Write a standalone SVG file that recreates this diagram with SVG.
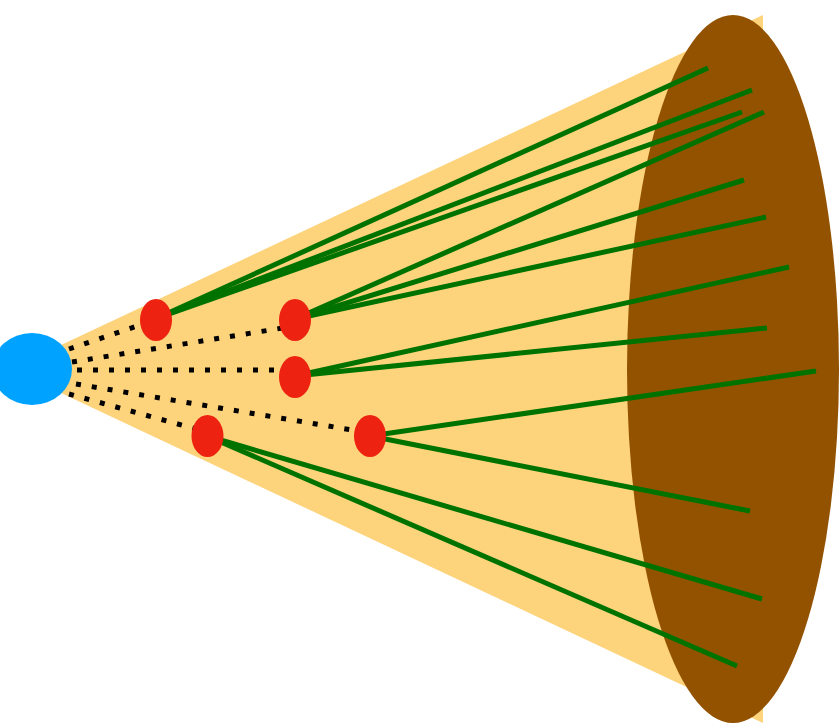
<svg xmlns="http://www.w3.org/2000/svg" width="839" height="723" viewBox="0 0 839 723">
<style>
.green{stroke:#007200;stroke-width:5;fill:none}
.dot{stroke:#000;stroke-width:5;stroke-dasharray:5 11;fill:none}
.red{fill:#ee2211}
</style>
<rect width="839" height="723" fill="#ffffff"/>
<g id="cone"><polygon points="10,369 763,15 763,723" fill="#fdd37b"/></g>
<g id="disk"><ellipse cx="733" cy="369" rx="106" ry="354" fill="#935200"/></g>
<g id="connectors">
<line class="green" x1="155" y1="319" x2="708" y2="68"/>
<line class="green" x1="155" y1="319" x2="752" y2="90"/>
<line class="green" x1="155" y1="319" x2="742" y2="112"/>
<line class="green" x1="295" y1="319" x2="764" y2="112"/>
<line class="green" x1="295" y1="319" x2="744" y2="180"/>
<line class="green" x1="295" y1="319" x2="766" y2="217"/>
<line class="green" x1="295" y1="376" x2="789" y2="267"/>
<line class="green" x1="295" y1="376" x2="767" y2="328"/>
<line class="green" x1="370" y1="436" x2="816" y2="371"/>
<line class="green" x1="370" y1="436" x2="750" y2="511"/>
<line class="green" x1="207" y1="436" x2="762" y2="599"/>
<line class="green" x1="207" y1="436" x2="737" y2="666"/>
<line class="dot" x1="69" y1="349" x2="155" y2="320"/>
<line class="dot" x1="72" y1="362" x2="295" y2="326"/>
<line class="dot" x1="77" y1="370" x2="295" y2="370"/>
<line class="dot" x1="76" y1="384" x2="370" y2="433"/>
<line class="dot" x1="69" y1="394" x2="207" y2="432"/>
</g>
<g id="source"><ellipse cx="32" cy="369" rx="40" ry="36" fill="#00a2ff"/></g>
<g id="n1"><ellipse class="red" cx="156" cy="320" rx="16" ry="21"/></g>
<g id="n2"><ellipse class="red" cx="295" cy="320" rx="16" ry="21"/></g>
<g id="n3"><ellipse class="red" cx="295" cy="377" rx="16" ry="21"/></g>
<g id="n4"><ellipse class="red" cx="207.5" cy="436" rx="16" ry="21"/></g>
<g id="n5"><ellipse class="red" cx="370" cy="436" rx="16" ry="21"/></g>
</svg>
